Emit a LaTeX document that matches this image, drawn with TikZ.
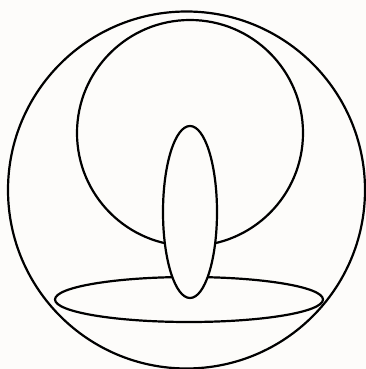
\documentclass[tikz,border=0pt]{standalone}
\begin{document}
\begin{tikzpicture}[x=1pt,y=-1pt,
  outline/.style={draw=black,line width=2.2pt,fill=bgc}]
\definecolor{bgc}{RGB}{253,252,250}
\fill[bgc] (0,0) rectangle (366,369);
\useasboundingbox (0,0) rectangle (366,369);
\draw[outline] (186.5,190) circle (178.5);
\draw[outline] (190,133) circle (113);
\draw[outline] (189,299.5) ellipse (134 and 22.5);
\draw[outline] (190,212) ellipse (27 and 86);
\end{tikzpicture}
\end{document}
